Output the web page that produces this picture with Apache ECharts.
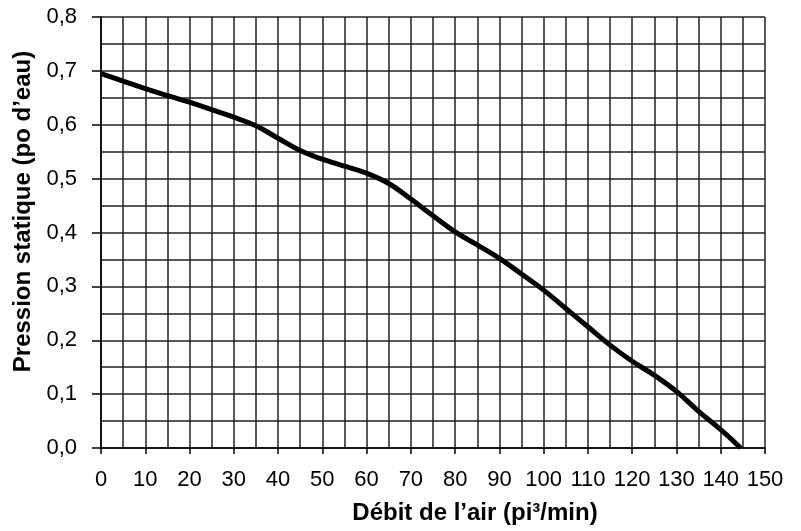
<!DOCTYPE html>
<html>
<head>
<meta charset="utf-8">
<script src="https://cdn.jsdelivr.net/npm/echarts@6/dist/echarts.min.js"></script>
<style>html,body{margin:0;padding:0;background:#fff;}#c{width:801px;height:531px;}</style>
</head>
<body>
<div id="c"></div>
<script>
var debit = [0, 5, 10, 15, 20, 25, 30, 35, 40, 45, 50, 55, 60, 65, 70, 75, 80, 85, 90, 95, 100, 105, 110, 115, 120, 125, 130, 135, 140, 144.5];
var pression = [0.695, 0.681, 0.667, 0.654, 0.642, 0.628, 0.614, 0.598, 0.575, 0.552, 0.536, 0.523, 0.510, 0.491, 0.462, 0.431, 0.401, 0.377, 0.352, 0.323, 0.293, 0.259, 0.225, 0.191, 0.161, 0.135, 0.105, 0.068, 0.034, 0.0];
var xTitle = 'Débit de l’air (pi³/min)';
var yTitle = 'Pression statique (po d’eau)';

var chart = echarts.init(document.getElementById('c'), null, {renderer: 'canvas'});
var font = '"Liberation Sans", Arial, sans-serif';
var gridLine = {show: true, lineStyle: {color: '#222', width: 1.5}};
chart.setOption({
  animation: false,
  backgroundColor: '#fff',
  grid: {left: 101, right: 36, top: 17, bottom: 83, containLabel: false},
  xAxis: {
    type: 'value', min: 0, max: 150, interval: 10,
    name: xTitle, nameLocation: 'middle', nameGap: 53,
    nameTextStyle: {fontFamily: font, fontSize: 24, fontWeight: 'bold', color: '#000', padding: [0, 0, 0, 84]},
    axisLine: {show: true, lineStyle: {color: '#000', width: 1.5}},
    axisTick: {show: true, length: 6, inside: false, lineStyle: {color: '#000', width: 1.5}},
    axisLabel: {fontFamily: font, fontSize: 22, color: '#000', margin: 21},
    splitLine: gridLine,
    minorTick: {show: false, splitNumber: 2},
    minorSplitLine: {show: true, lineStyle: {color: '#222', width: 1.5}}
  },
  yAxis: {
    type: 'value', min: 0, max: 0.8, interval: 0.1,
    name: yTitle, nameLocation: 'middle', nameGap: 63, nameRotate: 90,
    nameTextStyle: {fontFamily: font, fontSize: 24, fontWeight: 'bold', color: '#000', padding: [0, 0, 0, 42]},
    axisLine: {show: true, lineStyle: {color: '#000', width: 1.5}},
    axisTick: {show: true, length: 9, inside: false, lineStyle: {color: '#000', width: 1.5}},
    axisLabel: {fontFamily: font, fontSize: 22, color: '#000', margin: 24,
      formatter: function (v) { return v.toFixed(1).replace('.', ','); }},
    splitLine: gridLine,
    minorTick: {show: false, splitNumber: 2},
    minorSplitLine: {show: true, lineStyle: {color: '#222', width: 1.5}}
  },
  series: [{
    type: 'line',
    data: debit.map(function (x, i) { return [x, pression[i]]; }),
    smooth: 0.4,
    showSymbol: false,
    lineStyle: {color: '#000', width: 5},
    z: 5
  }]
});
</script>
</body>
</html>
